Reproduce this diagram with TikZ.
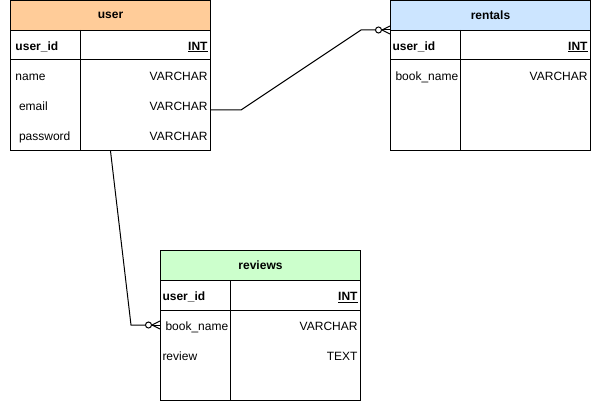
\documentclass[tikz,border=0pt]{standalone}
\usepackage{fontspec}
\setmainfont{Liberation Sans}
\usetikzlibrary{calc}
\definecolor{userfill}{HTML}{FFCC99}
\definecolor{rentfill}{HTML}{CCE5FF}
\definecolor{revfill}{HTML}{CCFFCC}
\begin{document}
\begin{tikzpicture}[x=1pt,y=-1pt,line width=1pt,
  font=\fontsize{12}{14}\selectfont,
  tbl/.style={draw,line width=1pt,minimum width=200pt,minimum height=150pt,anchor=north west,inner sep=0pt},
  hdr/.style={draw,line width=1pt,minimum width=200pt,minimum height=30pt,anchor=north west,inner sep=0pt,font=\bfseries\fontsize{12}{14}\selectfont},
  lt/.style={anchor=base west,inner sep=0pt},
  ltb/.style={anchor=base west,inner sep=0pt,font=\bfseries\fontsize{12}{14}\selectfont},
  rt/.style={anchor=base east,inner sep=0pt},
  rtb/.style={anchor=base east,inner sep=0pt,font=\bfseries\fontsize{12}{14}\selectfont},
  conn/.style={draw,line width=1pt},
  pics/zeromany/.style={code={
    \draw[line width=1pt] (-11.5,0) circle[radius=3];
    \draw[line width=1pt] (-8.5,0) -- (0,0);
    \draw[line width=1pt] (-8,0) -- (0,-4) (-8,0) -- (0,4);
  }}]
\useasboundingbox (0,0) rectangle (591,401);

% user table
\node[tbl] (user) at (10,0) {};
\node[hdr,fill=userfill] (userhdr) at (10,0) {user};
\draw (10,60) -- (210,60);
\draw (80,30) -- (80,150);
\node[ltb] (u-id) at (15,50.3) {user\_id};
\node[rtb] (u-idt) at (208,50.3) {\underline{INT}};
\node[lt] (u-name) at (15,80.3) {name};
\node[rt] (u-namet) at (208,80.3) {VARCHAR};
\node[lt] (u-email) at (18.5,110.3) {email};
\node[rt] (u-emailt) at (208,110.3) {VARCHAR};
\node[lt] (u-pw) at (18.5,140.3) {password};
\node[rt] (u-pwt) at (208,140.3) {VARCHAR};

% rentals table
\node[tbl] (rentals) at (390,0) {};
\node[hdr,fill=rentfill] (renthdr) at (390,0) {rentals};
\draw (390,60) -- (590,60);
\draw (460,30) -- (460,150);
\node[ltb] (r-id) at (392,50.3) {user\_id};
\node[rtb] (r-idt) at (588,50.3) {\underline{INT}};
\node[lt] (r-book) at (395,80.3) {book\_name};
\node[rt] (r-bookt) at (588,80.3) {VARCHAR};

% reviews table
\node[tbl] (reviews) at (160,250) {};
\node[hdr,fill=revfill] (revhdr) at (160,250) {reviews};
\draw (160,310) -- (360,310);
\draw (230,280) -- (230,400);
\node[ltb] (v-id) at (162,300.3) {user\_id};
\node[rtb] (v-idt) at (358,300.3) {\underline{INT}};
\node[lt] (v-book) at (165,330.3) {book\_name};
\node[rt] (v-bookt) at (358,330.3) {VARCHAR};
\node[lt] (v-rev) at (162,360.3) {review};
\node[rt] (v-revt) at (358,360.3) {TEXT};

% connectors
\coordinate (src1) at (210,110);
\coordinate (dst1) at (390,30);
\draw[conn] (src1) -- ++(31,0) -- ($(dst1)+(-29,0)$) -- ($(dst1)+(-14.5,0)$);
\pic at (dst1) {zeromany};

\coordinate (src2) at (user.south);
\coordinate (dst2) at (160,325);
\draw[conn] (src2) -- ($(dst2)+(-29,0)$) -- ($(dst2)+(-14.5,0)$);
\pic at (dst2) {zeromany};
\end{tikzpicture}
\end{document}
